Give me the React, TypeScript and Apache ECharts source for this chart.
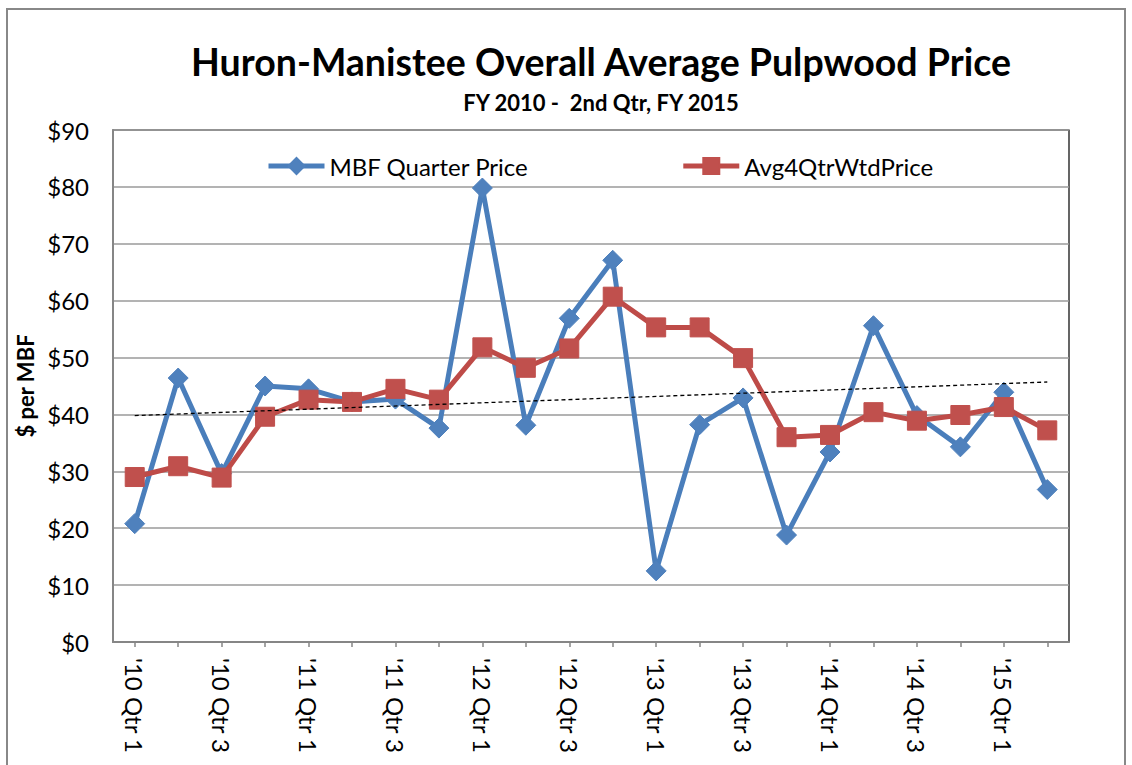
import React, { useEffect, useRef } from "react";
import * as echarts from "echarts";

const categories = [
  "'10 Qtr 1", "'10 Qtr 2", "'10 Qtr 3", "'10 Qtr 4",
  "'11 Qtr 1", "'11 Qtr 2", "'11 Qtr 3", "'11 Qtr 4",
  "'12 Qtr 1", "'12 Qtr 2", "'12 Qtr 3", "'12 Qtr 4",
  "'13 Qtr 1", "'13 Qtr 2", "'13 Qtr 3", "'13 Qtr 4",
  "'14 Qtr 1", "'14 Qtr 2", "'14 Qtr 3", "'14 Qtr 4",
  "'15 Qtr 1", "'15 Qtr 2",
];

const mbfQuarterPrice = [
  20.8, 46.4, 29.6, 45.0, 44.5, 42.2, 42.7, 37.6, 79.8, 38.1, 56.9,
  67.1, 12.5, 38.2, 42.9, 18.8, 33.4, 55.6, 39.8, 34.3, 43.9, 26.8,
];

const avg4QtrWtdPrice = [
  29.0, 30.9, 28.9, 39.6, 42.6, 42.2, 44.5, 42.6, 51.8, 48.2, 51.6,
  60.7, 55.3, 55.3, 49.9, 36.0, 36.4, 40.4, 38.9, 39.9, 41.3, 37.2,
];

// linear trendline endpoints
const trendStart = 39.8;
const trendEnd = 45.7;

const yTicks = { min: 0, max: 90, interval: 10 };

const FONT = "Lato, 'Open Sans', sans-serif";

export default function App() {
  const ref = useRef<HTMLDivElement>(null);

  useEffect(() => {
    document.body.style.margin = "0";
    if (!ref.current) return;
    const chart = echarts.init(ref.current, undefined, { renderer: "svg" });

    const trendData = categories.map((_, i) =>
      i === 0 ? trendStart : i === categories.length - 1 ? trendEnd : null
    );

    chart.setOption({
      animation: false,
      backgroundColor: "#ffffff",
      textStyle: { fontFamily: FONT, color: "#000" },
      title: [
        {
          text: "Huron-Manistee Overall Average Pulpwood Price",
          left: 596,
          top: 37,
          textAlign: "center",
          textStyle: { fontFamily: FONT, fontSize: 37.5, fontWeight: "bold", color: "#000" },
        },
        {
          text: "FY 2010 -  2nd Qtr, FY 2015",
          left: 596,
          top: 86,
          textAlign: "center",
          textStyle: { fontFamily: FONT, fontSize: 22, fontWeight: "bold", color: "#000" },
        },
      ],
      legend: {
        data: ["MBF Quarter Price", "Avg4QtrWtdPrice"],
        left: 261,
        top: 149,
        itemWidth: 56,
        itemHeight: 20,
        itemGap: 152,
        lineStyle: { width: 5 },
        textStyle: { fontFamily: FONT, fontSize: 24, color: "#000" },
      },
      grid: {
        left: 113,
        top: 130,
        right: 63,
        bottom: 123,
        show: true,
        borderColor: "#000",
        borderWidth: 1.2,
        backgroundColor: "transparent",
      },
      xAxis: {
        type: "category",
        data: categories,
        boundaryGap: true,
        axisLine: { show: true, lineStyle: { color: "#868686", width: 2 } },
        axisTick: {
          show: true,
          alignWithLabel: true,
          interval: 0,
          length: 5,
          lineStyle: { color: "#868686", width: 1.5 },
        },
        axisLabel: {
          interval: 1,
          rotate: -90,
          margin: 16,
          fontFamily: FONT,
          fontSize: 24,
          color: "#000",
        },
        splitLine: { show: false },
      },
      yAxis: {
        type: "value",
        min: yTicks.min,
        max: yTicks.max,
        interval: yTicks.interval,
        name: "$ per MBF",
        nameLocation: "middle",
        nameGap: 74,
        nameRotate: 90,
        nameTextStyle: { fontFamily: FONT, fontSize: 22, fontWeight: "bold", color: "#000" },
        axisLine: { show: true, lineStyle: { color: "#868686", width: 2 } },
        axisTick: { show: false },
        axisLabel: {
          formatter: (v: number) => "$" + v,
          fontFamily: FONT,
          fontSize: 24,
          color: "#000",
          margin: 24,
        },
        splitLine: { show: true, lineStyle: { color: "#9A9A9A", width: 1.5 } },
      },
      series: [
        {
          name: "MBF Quarter Price",
          type: "line",
          data: mbfQuarterPrice,
          symbol: "diamond",
          symbolSize: 20,
          lineStyle: { color: "#4A7EBB", width: 5 },
          itemStyle: { color: "#4F81BD", borderColor: "#4F81BD", borderWidth: 1 },
          z: 2,
        },
        {
          name: "Avg4QtrWtdPrice",
          type: "line",
          data: avg4QtrWtdPrice,
          symbol: "rect",
          symbolSize: 19,
          lineStyle: { color: "#BE4B48", width: 5 },
          itemStyle: { color: "#C0504D", borderColor: "#C0504D", borderWidth: 1 },
          z: 3,
        },
        {
          name: "Trend",
          type: "line",
          data: trendData,
          connectNulls: true,
          symbol: "none",
          lineStyle: { color: "#000", width: 1.3, type: [4, 3] },
          z: 4,
        },
      ],
      graphic: [
        {
          type: "rect",
          shape: { x: 7, y: 9, width: 1118, height: 800 },
          style: { fill: "none", stroke: "#888888", lineWidth: 2 },
          silent: true,
        },
      ],
    });

    return () => chart.dispose();
  }, []);

  return <div ref={ref} style={{ width: 1132, height: 765 }} />;
}
